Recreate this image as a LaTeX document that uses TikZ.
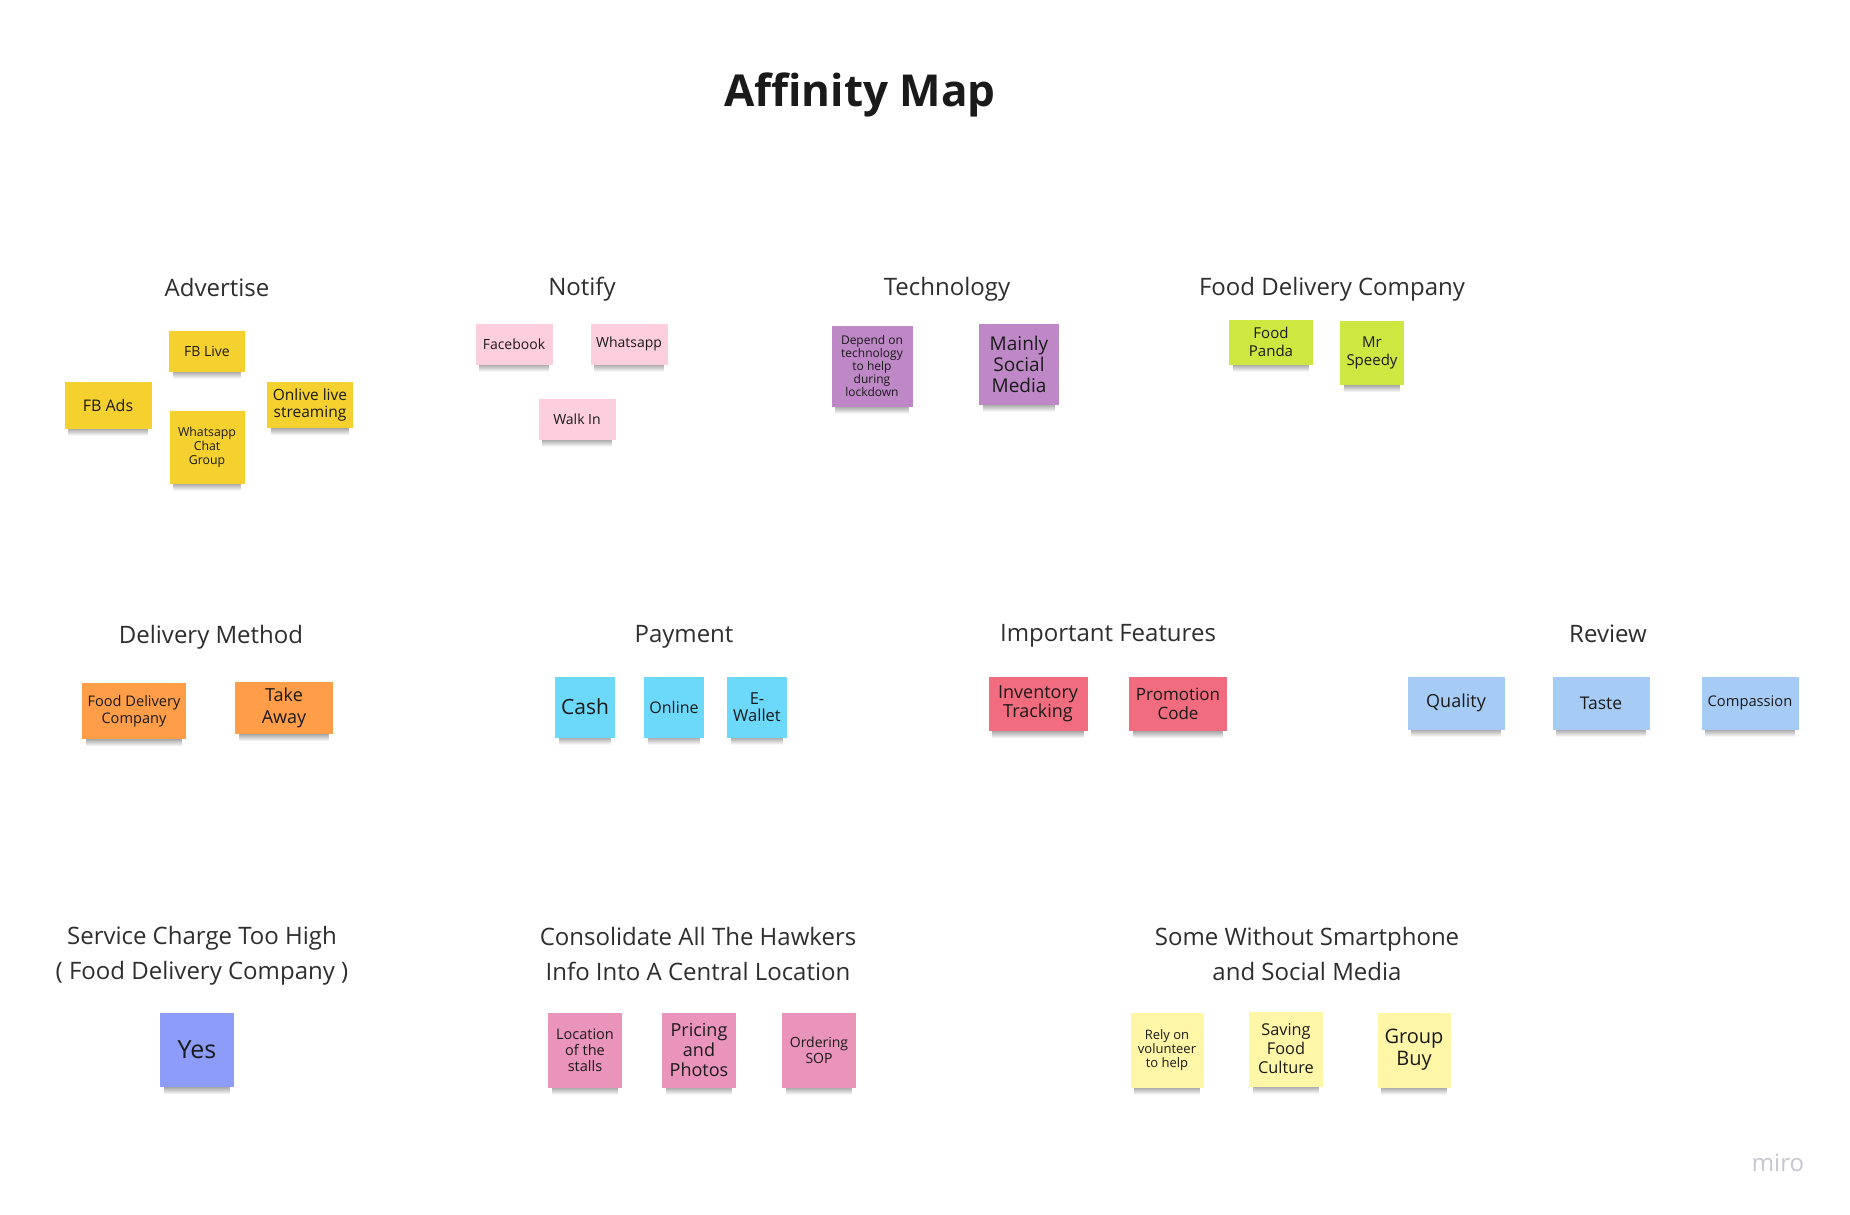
\documentclass[tikz,border=0pt]{standalone}
\usepackage{fontspec}
\setmainfont{Open Sans}
\usetikzlibrary{positioning, backgrounds, fadings}
\definecolor{NoteText}{HTML}{1A1A1A}
\definecolor{HeadText}{HTML}{2E2E2E}
\definecolor{StickyYellow}{HTML}{F5D130}
\definecolor{StickyPink}{HTML}{FDCEDD}
\definecolor{StickyViolet}{HTML}{BE88C7}
\definecolor{StickyLime}{HTML}{CEE741}
\definecolor{StickyOrange}{HTML}{FF9D48}
\definecolor{StickyCyan}{HTML}{6CD8FA}
\definecolor{StickyRed}{HTML}{F16C7F}
\definecolor{StickySky}{HTML}{A6CCF5}
\definecolor{StickyBlue}{HTML}{8E9CF9}
\definecolor{StickyRose}{HTML}{EA94BB}
\definecolor{StickyCream}{HTML}{FFF6A8}
\definecolor{LogoGrey}{HTML}{C6C6D0}
\newcommand{\nfs}[2]{\fontsize{#1}{#2}\selectfont}

\begin{document}
\begin{tikzpicture}[x=1pt, y=-1pt,
	note/.style={fill=#1, align=center, inner sep=1pt, text=NoteText, shad},
	sz/.style 2 args={minimum width=#1pt, minimum height=#2pt},
	shad/.style={append after command={\pgfextra{\begin{pgfonlayer}{background}
		\fill[black!75, opacity=.5, path fading=south] ([xshift=4pt, yshift=1pt]\tikzlastnode.south west) rectangle ([xshift=-4pt, yshift=-7pt]\tikzlastnode.south east);
		\end{pgfonlayer}}}},
	grp/.style={font=\nfs{24}{35}, text=HeadText, align=center}]
	\begin{pgfonlayer}{background}
		\fill[white] (0,0) rectangle (1850,1215);
	\end{pgfonlayer}
	\useasboundingbox (0,0) rectangle (1850,1215);

	\node[font=\nfs{44}{52}\bfseries, text=NoteText] (title) at (860,95) {Affinity Map};

	\node[grp] (hAdv) at (217,287) {Advertise};
	\node[note=StickyYellow, sz={76}{41}, font=\nfs{14}{16}] (adLive) at (207,351) {FB Live};
	\node[note=StickyYellow, sz={87}{47}, font=\nfs{16}{18}] (adAds) at (108,405) {FB Ads};
	\node[note=StickyYellow, sz={86}{46}, font=\nfs{15.5}{17}] (adStream) at (310,405) {Onlive live\\streaming};
	\node[note=StickyYellow, sz={75}{73}, font=\nfs{12.3}{14}] (adChat) at (207,447) {Whatsapp\\Chat\\Group};

	\node[grp] (hNotify) at (582,289) {Notify};
	\node[note=StickyPink, sz={77}{41}, font=\nfs{14}{16}] (ntFb) at (514,344) {Facebook};
	\node[note=StickyPink, sz={77}{41}, font=\nfs{14}{16}] (ntWa) at (629,344) {Whatsapp};
	\node[note=StickyPink, sz={77}{41}, font=\nfs{14}{16}] (ntWalk) at (577,419) {Walk In};

	\node[grp] (hTech) at (947,289) {Technology};
	\node[note=StickyViolet, sz={81}{81}, font=\nfs{12}{13}] (tcDepend) at (872,366) {Depend on\\technology\\to help\\during\\lockdown};
	\node[note=StickyViolet, sz={80}{81}, font=\nfs{19}{21}] (tcSocial) at (1019,364) {Mainly\\Social\\Media};

	\node[grp] (hFdc) at (1332,289) {Food Delivery Company};
	\node[note=StickyLime, sz={84}{45}, font=\nfs{15}{18}] (fdPanda) at (1271,342) {Food\\Panda};
	\node[note=StickyLime, sz={64}{64}, font=\nfs{15}{18}] (fdSpeedy) at (1372,353) {Mr\\Speedy};

	\node[grp] (hDeliv) at (211,637) {Delivery Method};
	\node[note=StickyOrange, sz={104}{56}, font=\nfs{14.6}{17}] (dmFdc) at (134,711) {Food Delivery\\Company};
	\node[note=StickyOrange, sz={98}{52}, font=\nfs{18}{22}] (dmTake) at (284,708) {Take\\Away};

	\node[grp] (hPay) at (684,637) {Payment};
	\node[note=StickyCyan, sz={60}{61}, font=\nfs{21}{24}] (pyCash) at (585,707) {Cash};
	\node[note=StickyCyan, sz={60}{61}, font=\nfs{16}{18}] (pyOnline) at (674,707) {Online};
	\node[note=StickyCyan, sz={60}{61}, font=\nfs{16.5}{17}] (pyWallet) at (757,707) {E-\\Wallet};

	\node[grp] (hFeat) at (1108,636) {Important Features};
	\node[note=StickyRed, sz={99}{54}, font=\nfs{18}{19}] (ifInv) at (1038,704) {Inventory\\Tracking};
	\node[note=StickyRed, sz={98}{54}, font=\nfs{17}{19}] (ifPromo) at (1178,704) {Promotion\\Code};

	\node[grp] (hReview) at (1608,634) {Review};
	\node[note=StickySky, sz={97}{53}, font=\nfs{18}{20}] (rvQuality) at (1456,703) {Quality};
	\node[note=StickySky, sz={97}{53}, font=\nfs{17.5}{20}] (rvTaste) at (1601,703) {Taste};
	\node[note=StickySky, sz={97}{53}, font=\nfs{14.7}{17}] (rvComp) at (1750,703) {Compassion};

	\node[grp] (hCharge) at (202,956) {Service Charge Too High\\( Food Delivery Company )};
	\node[note=StickyBlue, sz={74}{74}, font=\nfs{25}{28}] (scYes) at (197,1050) {Yes};

	\node[grp] (hHawker) at (698,954) {Consolidate All The Hawkers\\Info Into A Central Location};
	\node[note=StickyRose, sz={74}{75}, font=\nfs{14.5}{16}] (csLoc) at (585,1050) {Location\\of the\\stalls};
	\node[note=StickyRose, sz={74}{75}, font=\nfs{18}{20}] (csPrice) at (699,1050) {Pricing\\and\\Photos};
	\node[note=StickyRose, sz={74}{75}, font=\nfs{14}{16}] (csSop) at (819,1050) {Ordering\\SOP};

	\node[grp] (hPhone) at (1307,954) {Some Without Smartphone\\and Social Media};
	\node[note=StickyCream, sz={73}{75}, font=\nfs{13}{14}] (swRely) at (1167,1050) {Rely on\\volunteer\\to help};
	\node[note=StickyCream, sz={74}{75}, font=\nfs{16.3}{19}] (swSave) at (1286,1049) {Saving\\Food\\Culture};
	\node[note=StickyCream, sz={73}{75}, font=\nfs{20}{22}] (swGroup) at (1414,1050) {Group\\Buy};

	\node[font=\nfs{24}{28}, text=LogoGrey] (logo) at (1778,1163) {miro};
\end{tikzpicture}
\end{document}
